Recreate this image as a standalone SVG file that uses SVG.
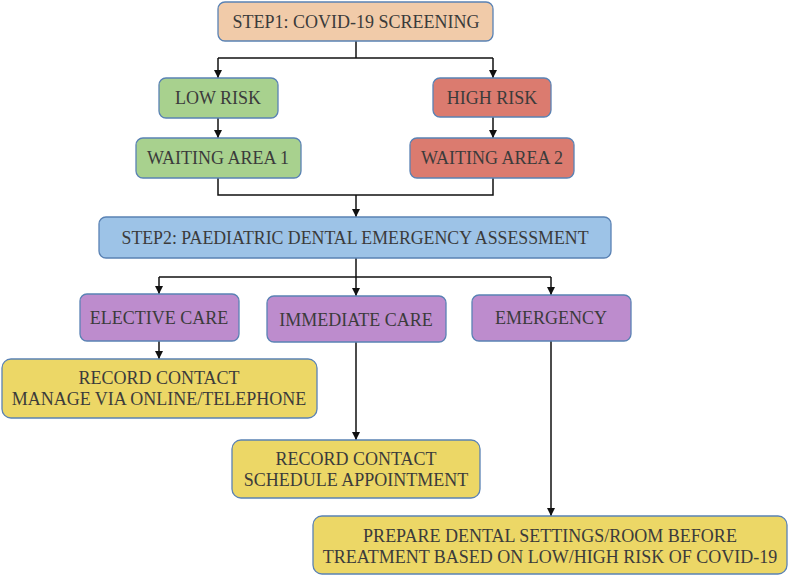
<svg xmlns="http://www.w3.org/2000/svg" width="789" height="577" viewBox="0 0 789 577">
<style>
.box{stroke:#5a82b4;stroke-width:1.3}
.t{font-family:"Liberation Serif","Times New Roman",serif;font-size:18px;fill:#3b3b3b;text-anchor:middle}
.c{fill:none;stroke:#111;stroke-width:1.5}
</style>
<defs>
<marker id="ah" viewBox="0 0 8 10" refX="8" refY="5" markerWidth="8" markerHeight="10" markerUnits="userSpaceOnUse" orient="auto">
<path d="M0,1 L8,5 L0,9 Z" fill="#111"/>
</marker>
</defs>
<rect width="789" height="577" fill="#fff"/>
<g id="connectors">
<path class="c" d="M356,41 V58"/>
<path class="c" d="M218,58 H493"/>
<path class="c" d="M218,58 V78" marker-end="url(#ah)"/>
<path class="c" d="M493,58 V78" marker-end="url(#ah)"/>
<path class="c" d="M218,118 V138" marker-end="url(#ah)"/>
<path class="c" d="M493,117 V138" marker-end="url(#ah)"/>
<path class="c" d="M218,178 V195 H493 V178"/>
<path class="c" d="M356,195 V217" marker-end="url(#ah)"/>
<path class="c" d="M356,258 V277"/>
<path class="c" d="M159,277 H551"/>
<path class="c" d="M159,277 V294" marker-end="url(#ah)"/>
<path class="c" d="M356,277 V296" marker-end="url(#ah)"/>
<path class="c" d="M551,277 V295" marker-end="url(#ah)"/>
<path class="c" d="M159,341 V359" marker-end="url(#ah)"/>
<path class="c" d="M356,342 V440" marker-end="url(#ah)"/>
<path class="c" d="M551,341 V516" marker-end="url(#ah)"/>
</g>
<g id="step1">
<rect class="box" x="218" y="2" width="275" height="39" rx="7" fill="#f1cba9"/>
<text class="t" x="356" y="28">STEP1: COVID-19 SCREENING</text>
</g>
<g id="lowrisk">
<rect class="box" x="159" y="78" width="119" height="40" rx="7" fill="#a8d18e"/>
<text class="t" x="218" y="104">LOW RISK</text>
</g>
<g id="highrisk">
<rect class="box" x="433" y="78" width="118" height="39" rx="7" fill="#db7b6f"/>
<text class="t" x="492" y="104">HIGH RISK</text>
</g>
<g id="waiting1">
<rect class="box" x="136" y="138" width="165" height="40" rx="7" fill="#a8d18e"/>
<text class="t" x="218" y="164">WAITING AREA 1</text>
</g>
<g id="waiting2">
<rect class="box" x="410" y="138" width="164" height="40" rx="7" fill="#db7b6f"/>
<text class="t" x="492" y="164">WAITING AREA 2</text>
</g>
<g id="step2">
<rect class="box" x="99" y="217" width="512" height="41" rx="7" fill="#9dc3e7"/>
<text class="t" x="355" y="244" textLength="467" lengthAdjust="spacingAndGlyphs">STEP2: PAEDIATRIC DENTAL EMERGENCY ASSESSMENT</text>
</g>
<g id="elective">
<rect class="box" x="80" y="294" width="159" height="47" rx="7" fill="#bd8ccd"/>
<text class="t" x="159" y="324">ELECTIVE CARE</text>
</g>
<g id="immediate">
<rect class="box" x="267" y="296" width="179" height="46" rx="7" fill="#bd8ccd"/>
<text class="t" x="356" y="326">IMMEDIATE CARE</text>
</g>
<g id="emergency">
<rect class="box" x="472" y="295" width="159" height="46" rx="7" fill="#bd8ccd"/>
<text class="t" x="551" y="324">EMERGENCY</text>
</g>
<g id="record1">
<rect class="box" x="2" y="359" width="315" height="59" rx="9" fill="#ecd766"/>
<text class="t" x="159" y="384">RECORD CONTACT</text>
<text class="t" x="159" y="405">MANAGE VIA ONLINE/TELEPHONE</text>
</g>
<g id="record2">
<rect class="box" x="232" y="440" width="248" height="58" rx="9" fill="#ecd766"/>
<text class="t" x="356" y="465">RECORD CONTACT</text>
<text class="t" x="356" y="486">SCHEDULE APPOINTMENT</text>
</g>
<g id="prepare">
<rect class="box" x="313" y="516" width="474" height="58" rx="9" fill="#ecd766"/>
<text class="t" x="550" y="542">PREPARE DENTAL SETTINGS/ROOM BEFORE</text>
<text class="t" x="550" y="563">TREATMENT BASED ON LOW/HIGH RISK OF COVID-19</text>
</g>
</svg>
